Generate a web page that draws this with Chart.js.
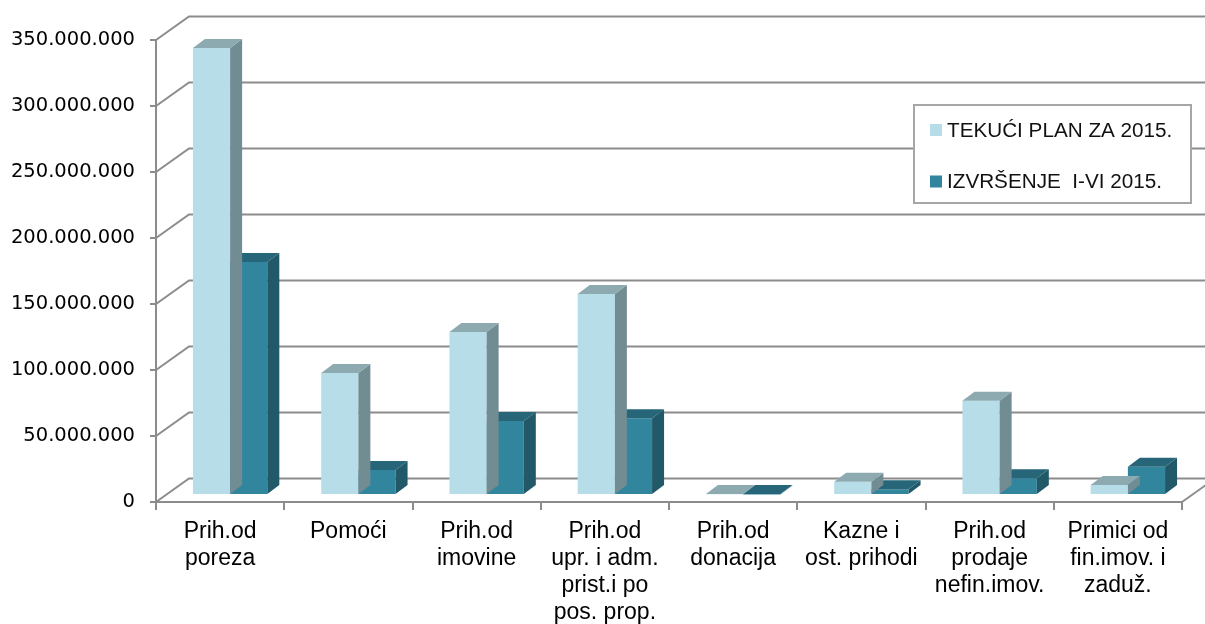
<!DOCTYPE html>
<html>
<head>
<meta charset="utf-8">
<script src="https://cdn.jsdelivr.net/npm/chart.js@4.4.1/dist/chart.umd.min.js"></script>
<style>
  html, body { margin: 0; padding: 0; background: #ffffff; }
  #wrap { width: 1205px; height: 624px; }
</style>
</head>
<body>
<div id="wrap"><canvas id="c" width="1205" height="624"></canvas></div>
<script>
// ---- data ----
const categories = [
  ["Prih.od", "poreza"],
  ["Pomoći"],
  ["Prih.od", "imovine"],
  ["Prih.od", "upr. i adm.", "prist.i po", "pos. prop."],
  ["Prih.od", "donacija"],
  ["Kazne i", "ost. prihodi"],
  ["Prih.od", "prodaje", "nefin.imov."],
  ["Primici od", "fin.imov. i", "zaduž."]
];
const seriesNames = ["TEKUĆI PLAN ZA 2015.", "IZVRŠENJE  I-VI 2015."];
const planValues = [338600000, 92400000, 123500000, 152300000, 600000, 10000000, 71400000, 7600000];
const execValues = [176500000, 19000000, 56000000, 58100000, 300000, 4300000, 12700000, 21400000];
const yMin = 0;
const yMax = 350000000;
const yStep = 50000000;

// ---- styles ----
const GRID = '#8c8c8c';
const DEPTH = { dx: 33, dy: -23.5 };     // wall depth
const BAR3D = { dx: 12, dy: -9 };        // bar depth
const BAR_SHIFT = { dx: 10, dy: -7 };    // bars sit slightly behind the front plane
const faces = [
  { front: '#b7dee8', side: '#728c94', top: '#8daab1' },
  { front: '#31859c', side: '#215968', top: '#266678' }
];

function fmt(v) {
  return String(Math.round(v)).replace(/\B(?=(\d{3})+(?!\d))/g, '.');
}

const wallsPlugin = {
  id: 'walls',
  beforeDatasetsDraw(chart) {
    const { ctx, chartArea, scales } = chart;
    const y = scales.y;
    ctx.save();
    ctx.strokeStyle = GRID;
    ctx.lineWidth = 2;
    const W = chart.width;
    for (let v = yMin; v <= yMax; v += yStep) {
      const py = y.getPixelForValue(v);
      ctx.beginPath();
      ctx.moveTo(chartArea.left, py);
      ctx.lineTo(chartArea.left + DEPTH.dx, py + DEPTH.dy);
      ctx.lineTo(W + 5, py + DEPTH.dy);
      ctx.stroke();
    }
    // right floor edge
    ctx.beginPath();
    ctx.moveTo(chartArea.right, chartArea.bottom);
    ctx.lineTo(chartArea.right + DEPTH.dx, chartArea.bottom + DEPTH.dy);
    ctx.stroke();
    ctx.restore();
    // shift bars into depth
    ctx.save();
    ctx.translate(BAR_SHIFT.dx, BAR_SHIFT.dy);
  },
  afterDatasetDraw(chart, args) {
    const { ctx } = chart;
    const meta = args.meta;
    const f = faces[args.index];
    meta.data.forEach(bar => {
      const p = bar.getProps(['x', 'y', 'base', 'width'], true);
      const l = p.x - p.width / 2, r = p.x + p.width / 2;
      const t = Math.min(p.y, p.base), b = Math.max(p.y, p.base);
      // side
      ctx.fillStyle = f.side;
      ctx.beginPath();
      ctx.moveTo(r, t);
      ctx.lineTo(r + BAR3D.dx, t + BAR3D.dy);
      ctx.lineTo(r + BAR3D.dx, b + BAR3D.dy);
      ctx.lineTo(r, b);
      ctx.closePath();
      ctx.fill();
      // top
      ctx.fillStyle = f.top;
      ctx.beginPath();
      ctx.moveTo(l, t);
      ctx.lineTo(l + BAR3D.dx, t + BAR3D.dy);
      ctx.lineTo(r + BAR3D.dx, t + BAR3D.dy);
      ctx.lineTo(r, t);
      ctx.closePath();
      ctx.fill();
    });
  },
  afterDatasetsDraw(chart) {
    chart.ctx.restore();
    // legend
    const { ctx, chartArea } = chart;
    const bx = chartArea.right - 268, by = chartArea.top + 65, bw = 277, bh = 98;
    ctx.save();
    ctx.fillStyle = '#ffffff';
    ctx.fillRect(bx, by, bw, bh);
    ctx.strokeStyle = '#a6a6a6';
    ctx.lineWidth = 2;
    ctx.strokeRect(bx, by, bw, bh);
    ctx.font = '20.7px "Liberation Sans", Arial, sans-serif';
    ctx.textBaseline = 'middle';
    ctx.textAlign = 'left';
    chart.data.datasets.forEach((ds, i) => {
      const cy = by + 25 + i * 51.5;
      ctx.fillStyle = ds.backgroundColor;
      ctx.fillRect(bx + 16, cy - 6, 12, 12);
      ctx.fillStyle = '#111111';
      ctx.fillText(ds.label, bx + 33, cy + 1);
    });
    ctx.restore();
  }
};

new Chart(document.getElementById('c'), {
  type: 'bar',
  data: {
    labels: categories,
    datasets: [
      { label: seriesNames[0], data: planValues, backgroundColor: faces[0].front, borderWidth: 0,
        categoryPercentage: 0.58, barPercentage: 1.0 },
      { label: seriesNames[1], data: execValues, backgroundColor: faces[1].front, borderWidth: 0,
        categoryPercentage: 0.58, barPercentage: 1.0 }
    ]
  },
  options: {
    responsive: false,
    devicePixelRatio: 1,
    animation: false,
    layout: { padding: { left: 0, right: 23, top: 40, bottom: 0 } },
    plugins: { legend: { display: false }, tooltip: { enabled: false } },
    scales: {
      x: {
        offset: true,
        grid: { display: true, drawOnChartArea: false, drawTicks: true, tickLength: 8, color: GRID, lineWidth: 2, offset: true },
        border: { display: true, color: GRID, width: 2 },
        ticks: {
          autoSkip: false, maxRotation: 0, minRotation: 0, padding: 8, color: '#000000',
          font: { family: '"Liberation Sans", Arial, sans-serif', size: 23, lineHeight: 1.17 }
        },
        afterFit(scale) { scale.height = 122; }
      },
      y: {
        min: yMin, max: yMax,
        grid: { display: true, drawOnChartArea: false, drawTicks: true, tickLength: 6, color: GRID, lineWidth: 2 },
        border: { display: true, color: GRID, width: 2 },
        ticks: {
          stepSize: yStep, padding: 15, color: '#000000',
          font: { family: '"DejaVu Sans", Verdana, sans-serif', size: 19.5 },
          callback: v => fmt(v)
        },
        afterFit(scale) { scale.width = 156; }
      }
    }
  },
  plugins: [wallsPlugin]
});
</script>
</body>
</html>
